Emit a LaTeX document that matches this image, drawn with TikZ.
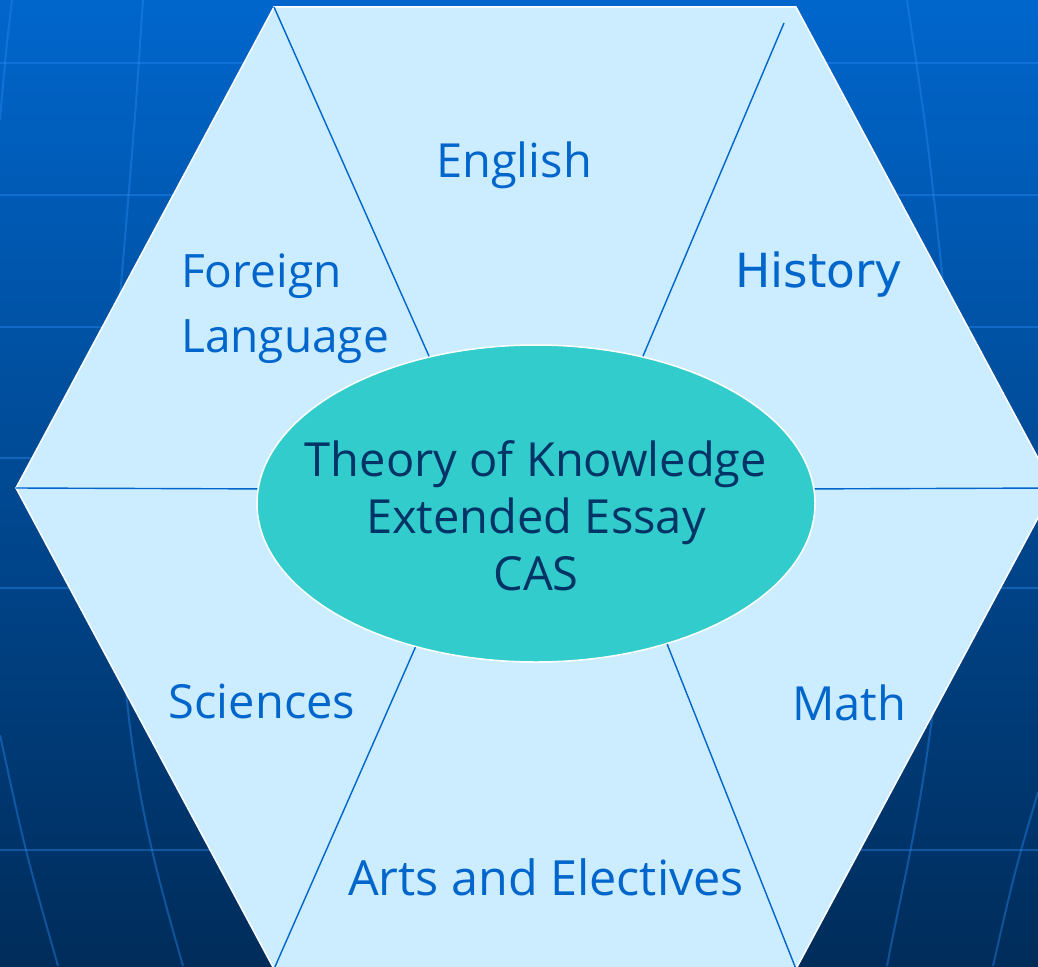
\documentclass[tikz,border=0pt]{standalone}
\usepackage{fontspec}
\setmainfont{Open Sans}
\newfontfamily\histfont{DejaVu Sans}
\usetikzlibrary{shapes.geometric}

\definecolor{slidetop}{RGB}{0,102,204}
\definecolor{slidebottom}{RGB}{0,44,90}
\definecolor{gridblue}{RGB}{40,140,245}
\definecolor{hexblue}{RGB}{204,236,255}
\definecolor{coreteal}{RGB}{51,204,204}
\definecolor{labelblue}{RGB}{0,102,204}
\definecolor{corenavy}{RGB}{0,51,102}

\begin{document}
\begin{tikzpicture}[x=1pt,y=-1pt,
    bgline/.style={draw=gridblue,opacity=0.4,line width=2pt},
    hexface/.style={fill=hexblue,draw=white,line width=1.5pt,line join=miter},
    core/.style={ellipse,fill=coreteal,draw=white,line width=1.5pt,
                 minimum width=558pt,minimum height=317pt,inner sep=0pt},
    spoke/.style={draw=labelblue,line width=1.4pt},
    subject/.style={text=labelblue,inner sep=0pt,font=\fontsize{47}{65}\selectfont},
    coretext/.style={text=corenavy,inner sep=0pt,align=center,font=\fontsize{47}{57}\selectfont}]
        \useasboundingbox (0,0) rectangle (1038,966);
        \clip (0,0) rectangle (1038,966);
        \shade[top color=slidetop,bottom color=slidebottom] (0,0) rectangle (1038,966);

        % background grid
        \path[bgline] (0,63) -- (1038,63)
                      (0,195) -- (1038,195)
                      (0,327) -- (1038,327)
                      (0,458) -- (1038,458)
                      (0,588) -- (1038,588)
                      (0,850) -- (1038,850);
        \path[bgline] (12,0) .. controls (6,50) .. (0,120)
                      (143,0) .. controls (135,120) .. (118,320)
                      (118,560) .. controls (124,760) and (150,850) .. (183,966)
                      (0,735) .. controls (25,850) .. (58,966)
                      (907,0) .. controls (928,140) .. (948,330)
                      (945,560) .. controls (936,760) and (905,870) .. (887,966)
                      (1038,792) .. controls (1015,870) .. (993,966);

        \coordinate (tl) at (274,7);
        \coordinate (tr) at (796,7);
        \coordinate (rt) at (1054,488);
        \coordinate (br) at (796,969);
        \coordinate (bl) at (274,969);
        \coordinate (lt) at (16,488);
        \coordinate (trin) at (784,23);

        \path[hexface] (tl) -- (tr) -- (rt) -- (br) -- (bl) -- (lt) -- cycle;

        \node[core] (core) at (536,503.5) {};
        \node[coretext] (coretxt) at (536,516) {Theory of Knowledge\\Extended Essay\\CAS};

        \node[subject,anchor=base] (english) at (514,177) {English};
        \node[subject,anchor=west,align=left,font=\fontsize{46}{65}\selectfont] (foreign) at (181,309) {Foreign\\Language};
        \node[subject,anchor=base,font=\histfont\fontsize{47}{60}\selectfont] (history) at (819,287) {History};
        \node[subject,anchor=base] (sciences) at (262,718) {Sciences};
        \node[subject,anchor=base] (math) at (849,720) {Math};
        \node[subject,anchor=base,font=\fontsize{48.5}{60}\selectfont] (arts) at (546,895) {Arts and Electives};

        \path[spoke]
                 (tl) edge (core.126)
                 (trin) edge (core.54)
                 (lt) edge (core.177)
                 (core.3) edge (rt)
                 (core.230) edge (bl)
                 (core.313) edge (br)
                 ;
\end{tikzpicture}
\end{document}
